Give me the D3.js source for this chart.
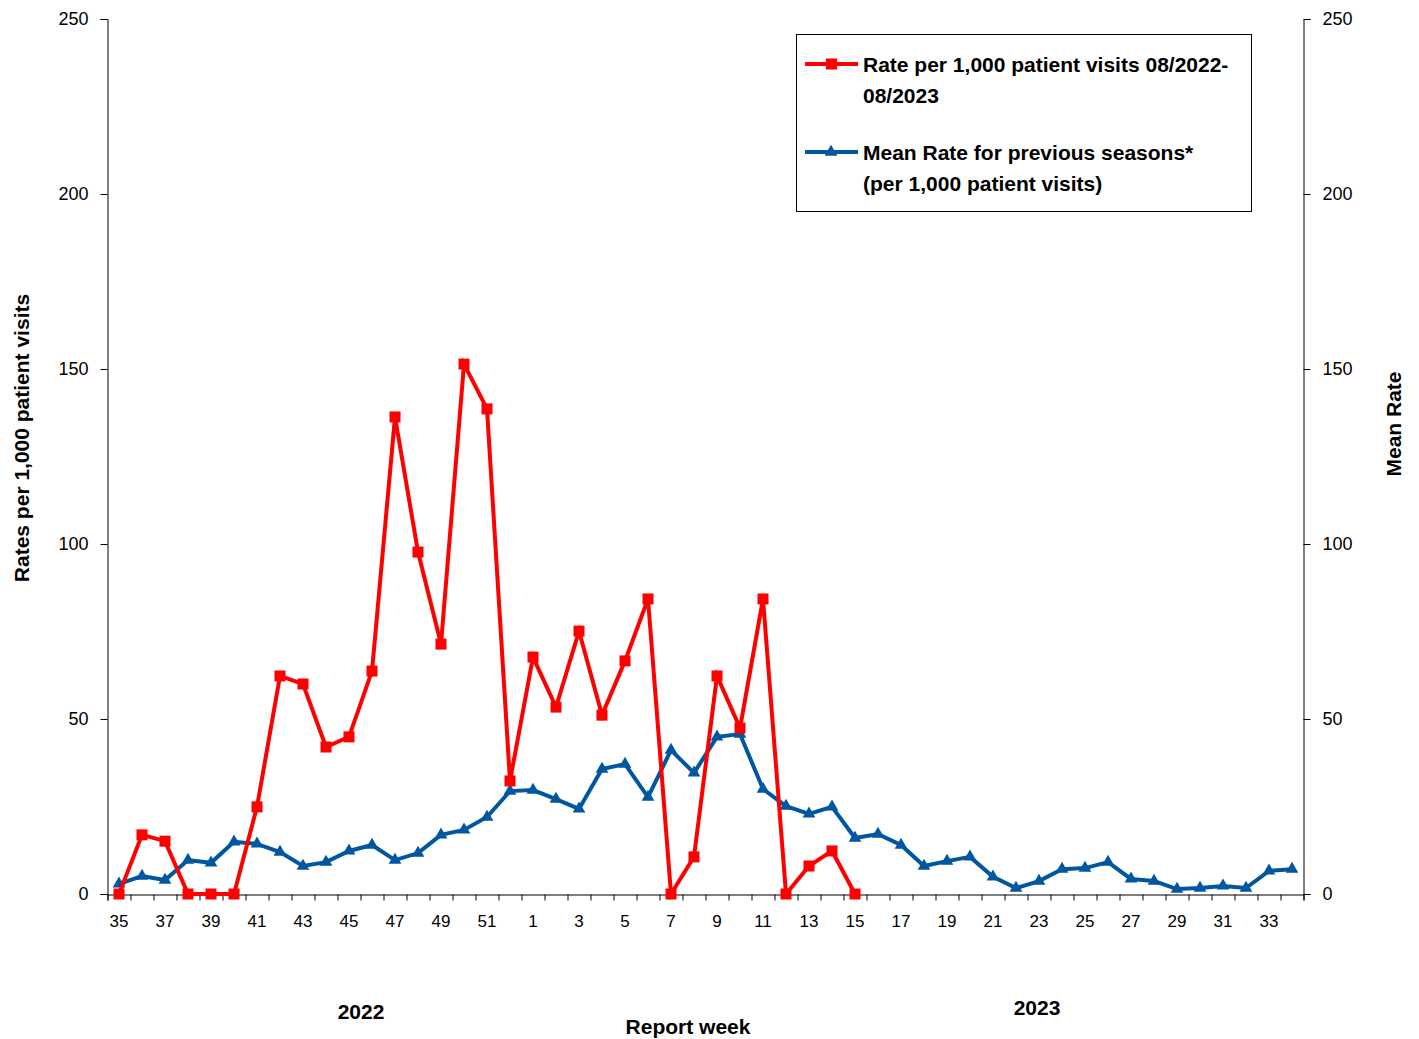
<!DOCTYPE html>
<html><head><meta charset="utf-8">
<script src="https://cdn.jsdelivr.net/npm/d3@7"></script>
<style>
body{margin:0;background:#fff;}
text{font-family:"Liberation Sans Narrow","Arial Narrow","Liberation Sans",sans-serif;}
</style></head><body>
<svg id="chart" width="1419" height="1039"></svg>
<script>
'use strict';
var weeks = [35,36,37,38,39,40,41,42,43,44,45,46,47,48,49,50,51,52,
  1,2,3,4,5,6,7,8,9,10,11,12,13,14,15,16,17,18,19,20,21,22,23,24,25,26,27,28,29,30,31,32,33,34];
var rateCurrent = [0,16.9,15.1,0,0,0,24.9,62.3,60,42,44.9,63.7,136.3,97.7,71.4,151.4,138.6,32.3,
  67.7,53.4,75.1,51.1,66.6,84.3,0,10.6,62.3,47.4,84.3,0,8,12.3,0];
var rateMean = [2.9,5.1,4,9.7,8.9,14.9,14.3,12,8,9.1,12.3,14,9.7,11.7,16.9,18.3,22,29.4,
  29.7,27.1,24.3,35.7,37.1,27.7,41.1,34.6,44.9,45.7,30,25.1,22.9,24.9,16,17.1,14,8,9.4,10.6,4.9,1.7,3.7,7.1,7.4,9.1,4.3,3.7,1.4,1.7,2.3,1.7,6.6,7.1];
var yTicks = [0,50,100,150,200,250];
var legendLabels = [["Rate per 1,000 patient visits 08/2022-","08/2023"],["Mean Rate for previous seasons*","(per 1,000 patient visits)"]];

var svg = d3.select('#chart');
var x = d3.scaleLinear().domain([-0.5, weeks.length - 0.5]).range([107.5, 1303.5]);
var y = d3.scaleLinear().domain([0, 250]).range([894, 19]);

// axes
svg.append('g').attr('transform','translate(107.5,0)')
  .call(d3.axisLeft(y).tickValues(yTicks).tickSize(7).tickPadding(12))
  .call(g => g.selectAll('text').attr('font-size',18));
svg.append('g').attr('transform','translate(1303.5,0)')
  .call(d3.axisRight(y).tickValues(yTicks).tickSize(7).tickPadding(12))
  .call(g => g.selectAll('text').attr('font-size',18));
var xAxis = svg.append('g').attr('transform','translate(0,894.5)');
xAxis.call(d3.axisBottom(x).tickValues(d3.range(0, weeks.length + 1).map(d => d - 0.5)).tickSize(6).tickFormat(''));
svg.selectAll('.domain,.tick line').attr('stroke','#000');
xAxis.selectAll('text.wk').data(weeks).join('text').attr('class','wk')
  .attr('x',(d,i)=>x(i)).attr('y',32).attr('text-anchor','middle').attr('font-size',17).attr('fill','#000')
  .text((d,i)=> i % 2 === 0 ? d : '');

// titles
svg.append('text').attr('transform','translate(29,438) rotate(-90)').attr('text-anchor','middle')
  .attr('font-size',21).attr('font-weight','bold').text('Rates per 1,000 patient visits');
svg.append('text').attr('transform','translate(1401,424) rotate(-90)').attr('text-anchor','middle')
  .attr('font-size',21).attr('font-weight','bold').text('Mean Rate');
svg.append('text').attr('x',688).attr('y',1034).attr('text-anchor','middle')
  .attr('font-size',21).attr('font-weight','bold').text('Report week');
svg.append('text').attr('x',361).attr('y',1019).attr('text-anchor','middle')
  .attr('font-size',21).attr('font-weight','bold').text('2022');
svg.append('text').attr('x',1037).attr('y',1015).attr('text-anchor','middle')
  .attr('font-size',21).attr('font-weight','bold').text('2023');

var line = d3.line().x((d,i)=>x(i)).y(d=>y(d));
svg.append('path').datum(rateMean).attr('fill','none').attr('stroke','#0057a0').attr('stroke-width',4).attr('d',line);
svg.append('g').selectAll('path').data(rateMean).join('path')
  .attr('transform',(d,i)=>'translate('+x(i)+','+y(d)+')')
  .attr('d',d3.symbol(d3.symbolTriangle,70)).attr('fill','#0057a0');
svg.append('path').datum(rateCurrent).attr('fill','none').attr('stroke','#f00').attr('stroke-width',4).attr('d',line);
svg.append('g').selectAll('rect').data(rateCurrent).join('rect')
  .attr('x',(d,i)=>x(i)-5.5).attr('y',d=>y(d)-5.5).attr('width',11).attr('height',11).attr('fill','#f00');

// legend
var lg = svg.append('g');
lg.append('rect').attr('x',796.5).attr('y',34.5).attr('width',455).attr('height',177).attr('fill','#fff').attr('stroke','#000');
var colors = ['#f00','#0057a0'];
legendLabels.forEach((lab,k)=>{
  var yy = 64 + k*88;
  lg.append('line').attr('x1',805).attr('x2',858).attr('y1',yy).attr('y2',yy).attr('stroke',colors[k]).attr('stroke-width',4);
  if (k===0) lg.append('rect').attr('x',826).attr('y',yy-5.5).attr('width',11).attr('height',11).attr('fill',colors[k]);
  else lg.append('path').attr('transform','translate(831,'+yy+')').attr('d',d3.symbol(d3.symbolTriangle,70)).attr('fill',colors[k]);
  lab.forEach((t,j)=> lg.append('text').attr('x',863).attr('y',yy+8+j*31).attr('font-size',21).attr('font-weight','bold').text(t));
});
</script></body></html>
